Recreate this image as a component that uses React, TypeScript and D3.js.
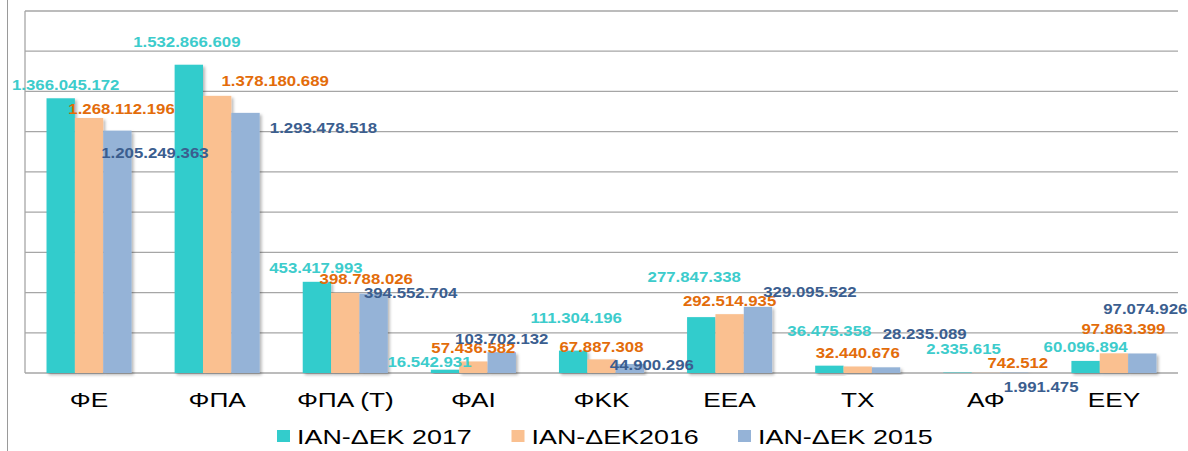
import React from "react";
import * as d3 from "d3";

const categories = ["ΦΕ", "ΦΠΑ", "ΦΠΑ (Τ)", "ΦΑΙ", "ΦΚΚ", "ΕΕΑ", "ΤΧ", "ΑΦ", "ΕΕΥ"];
const seriesNames = ["ΙΑΝ-ΔΕΚ 2017", "ΙΑΝ-ΔΕΚ2016", "ΙΑΝ-ΔΕΚ 2015"];
const values2017 = [1366045172, 1532866609, 453417993, 16542931, 111304196, 277847338, 36475358, 2335615, 60096894];
const values2016 = [1268112196, 1378180689, 398788026, 57436582, 67887308, 292514935, 32440676, 742512, 97863399];
const values2015 = [1205249363, 1293478518, 394552704, 103702132, 44900296, 329095522, 28235089, 1991475, 97074926];
const yTicks = [0, 2e8, 4e8, 6e8, 8e8, 1e9, 1.2e9, 1.4e9, 1.6e9, 1.8e9];

// label offsets (px) relative to the top centre of each bar, as placed in the original
const labelOffsets2017 = [[5, -13], [-2, -23], [-1, -13.5], [-15.5, -8], [3, -33], [-7, -40], [0, -35], [6, -24], [0, -13.5]];
const labelOffsets2016 = [[32.5, -9], [58, -15], [21, -13.5], [0, -13], [0, -12.6], [0, -13], [0, -13], [32, -9.6], [9.5, -24]];
const labelOffsets2015 = [[37.5, 22.7], [78, 15.4], [37, -1], [0, -13], [22, 1], [52, -14.5], [38.6, -33], [27, 14], [3, -44]];

const W = 1188;
const H = 451;
const plot = { left: 25, right: 1178, top: 11, bottom: 373 };

const barColors = ["#33CCCC", "#FAC090", "#95B3D7"];
const labelColors = ["#3DCCCC", "#E36C0A", "#3B5E8F"];

const fmt = d3.formatLocale({ decimal: ",", thousands: ".", grouping: [3], currency: ["", "€"] }).format(",d");

export default function App() {
  const series = [values2017, values2016, values2015];
  const offsets = [labelOffsets2017, labelOffsets2016, labelOffsets2015];

  const x0 = d3
    .scaleBand<string>()
    .domain(categories)
    .range([plot.left, plot.right])
    .paddingInner(0.336)
    .paddingOuter(0.168);
  const x1 = d3.scaleBand<number>().domain([0, 1, 2]).range([0, x0.bandwidth()]).padding(0);
  const y = d3.scaleLinear().domain([0, 1.8e9]).range([plot.bottom, plot.top]);

  const font = "'Liberation Sans', Arial, sans-serif";
  const legendX = [277, 511.5, 738];

  return (
    <svg width={W} height={H} style={{ position: "absolute", left: 0, top: 0, background: "#fff" }}>
      <defs>
        <filter id="sh" x="-20%" y="-20%" width="150%" height="150%">
          <feDropShadow dx="2" dy="2" stdDeviation="1.4" floodColor="#000" floodOpacity="0.28" />
        </filter>
      </defs>
      <line x1={7.5} x2={7.5} y1={0} y2={H} stroke="#9a9a9a" strokeWidth={1} />
      {yTicks.map((t) => (
        <line key={t} x1={plot.left} x2={plot.right} y1={y(t)} y2={y(t)} stroke="#a6a6a6" strokeWidth={1.3} />
      ))}
      <line x1={plot.left} x2={plot.left} y1={plot.top} y2={plot.bottom} stroke="#a6a6a6" strokeWidth={1.3} />
      {categories.map((c, i) => (
        <g key={c}>
          {series.map((vals, j) => {
            const bx = (x0(c) as number) + (x1(j) as number);
            return (
              <rect
                key={j}
                x={bx}
                y={y(vals[i])}
                width={x1.bandwidth()}
                height={plot.bottom - y(vals[i])}
                fill={barColors[j]}
                filter="url(#sh)"
              />
            );
          })}
        </g>
      ))}
      {categories.map((c, i) => (
        <g key={"l" + c}>
          {series.map((vals, j) => {
            const cx = (x0(c) as number) + (x1(j) as number) + x1.bandwidth() / 2;
            const ty = y(vals[i]);
            const [dx, dy] = offsets[j][i];
            return (
              <text
                key={j}
                transform={`translate(${cx + dx},${ty + dy}) scale(1.2,1)`}
                textAnchor="middle"
                dominantBaseline="central"
                fontFamily={font}
                fontWeight="bold"
                fontSize={14}
                fill={labelColors[j]}
              >
                {fmt(vals[i])}
              </text>
            );
          })}
        </g>
      ))}
      {categories.map((c) => (
        <text
          key={"c" + c}
          transform={`translate(${(x0(c) as number) + x0.bandwidth() / 2},${399}) scale(1.25,1)`}
          textAnchor="middle"
          dominantBaseline="central"
          fontFamily={font}
          fontSize={21}
          fill="#000"
        >
          {c}
        </text>
      ))}
      {seriesNames.map((s, j) => (
        <g key={s}>
          <rect x={legendX[j]} y={430} width={13} height={12} fill={barColors[j]} />
          <text
            transform={`translate(${legendX[j] + 20},${436.5}) scale(1.28,1)`}
            dominantBaseline="central"
            fontFamily={font}
            fontSize={21}
            fill="#000"
          >
            {s}
          </text>
        </g>
      ))}
    </svg>
  );
}
